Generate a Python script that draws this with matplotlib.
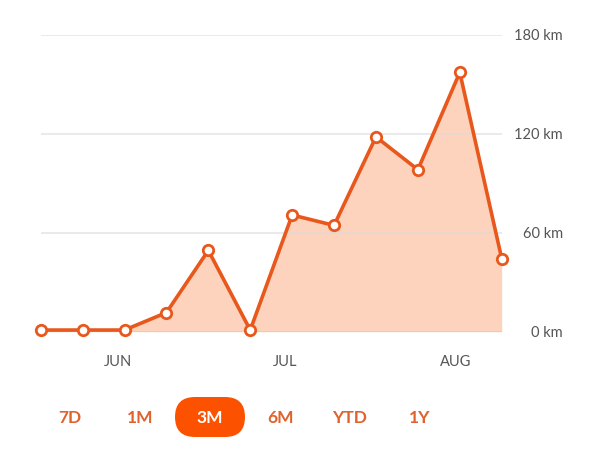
import matplotlib
matplotlib.use('Agg')
import numpy as np
import matplotlib.pyplot as plt
from matplotlib.patches import FancyBboxPatch

plt.rcParams['font.family'] = ['Lato', 'DejaVu Sans']

# weekly distance, km
week_km = [1, 1, 1, 11.6, 49.3, 1, 70.8, 64.5, 118.2, 98.3, 157.3, 44.4]
month_pos = [1.84, 5.82, 9.89]
month_labels = ['JUN', 'JUL', 'AUG']
y_ticks = [0, 60, 120, 180]
y_labels = ['0 km', '60 km', '120 km', '180 km']
ranges = ['7D', '1M', '3M', '6M', 'YTD', '1Y']
selected = '3M'

orange = '#e8581c'
fill_c = '#fdd3bd'
btn_c = '#fc5200'

fig = plt.figure(figsize=(6, 4.5), dpi=100)
ax = fig.add_axes([40.7 / 600, 118.3 / 450, 461 / 600, 296.7 / 450])

x = np.arange(len(week_km))
ax.fill_between(x, 0, week_km, color=fill_c, lw=0, zorder=1)
for t in y_ticks[1:]:
    ax.axhline(t, color='#d9d9d9', lw=1.1, alpha=0.7, zorder=1.5)
ax.axhline(0, color='#d0d0d0', lw=1.1, zorder=1.5)
ax.plot(x, week_km, color=orange, lw=2.6, zorder=3,
        marker='o', ms=7.5, mfc='white', mec=orange, mew=2.0, clip_on=False)

ax.set_xlim(0, len(week_km) - 1)
ax.set_ylim(0, 180)
for s in ax.spines.values():
    s.set_visible(False)

ax.yaxis.tick_right()
ax.set_yticks(y_ticks)
ax.set_yticklabels(y_labels)
ax.tick_params(axis='y', length=0, pad=44, labelsize=10.5, labelcolor='#555555')
for lbl in ax.get_yticklabels():
    lbl.set_horizontalalignment('right')

ax.set_xticks(month_pos)
ax.set_xticklabels(month_labels)
ax.tick_params(axis='x', length=0, pad=17, labelsize=10.5, labelcolor='#555555')

# range selector row, pixel coords
ov = fig.add_axes([0, 0, 1, 1])
ov.set_xlim(0, 600)
ov.set_ylim(450, 0)
ov.axis('off')
for i, r in enumerate(ranges):
    cx = 70 + i * 70
    if r == selected:
        ov.add_patch(FancyBboxPatch((cx - 35, 397), 70, 40,
                                    boxstyle='round,pad=0,rounding_size=20',
                                    fc=btn_c, ec='none'))
        ov.text(cx, 418, r, color='white', fontsize=12.5, fontweight='bold',
                ha='center', va='center')
    else:
        ov.text(cx, 418, r, color='#e0622c', fontsize=12.5, fontweight='bold',
                ha='center', va='center')

fig.savefig('out.png', dpi=100)
